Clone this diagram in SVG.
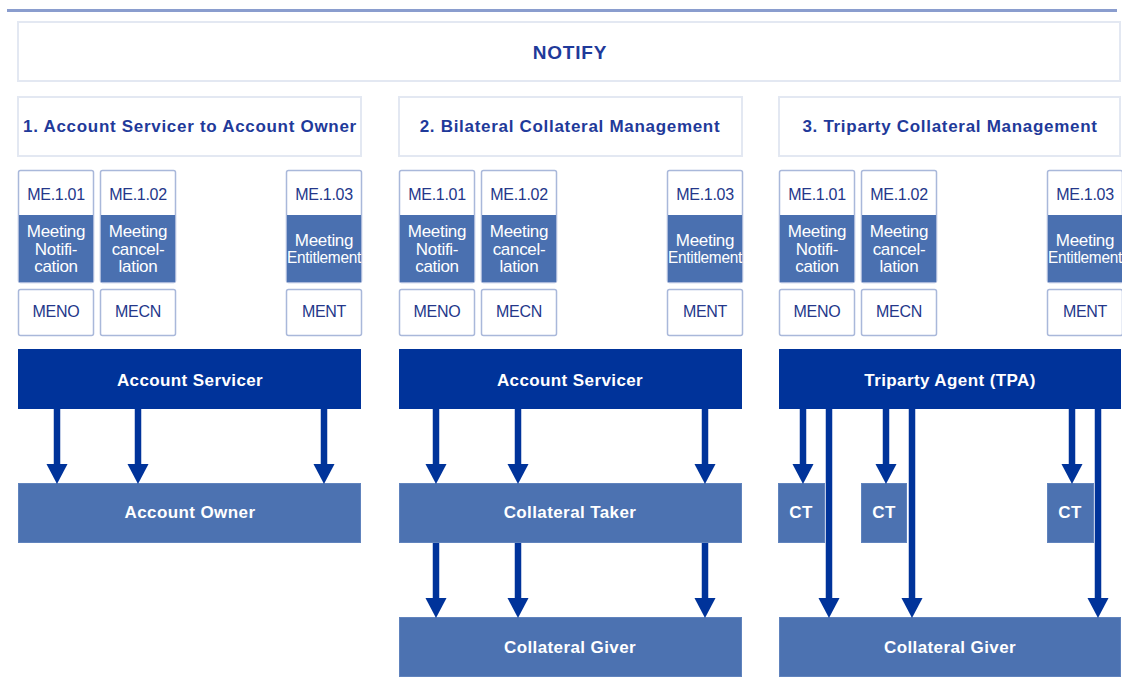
<svg xmlns="http://www.w3.org/2000/svg" width="1122" height="689" viewBox="0 0 1122 689">
<style>
.hdr{fill:#fff;stroke:#e3e8f2;stroke-width:2}
.ttl{font-family:"Liberation Sans",Arial,sans-serif;font-weight:bold;font-size:17px;fill:#1f3a9a;text-anchor:middle;letter-spacing:0.7px}
.big{font-size:19px;letter-spacing:0.8px}
.code{fill:#fff;stroke:#a9b8da;stroke-width:1.5}
.blue{fill:#4a70b0}
.ctxt{font-family:"Liberation Sans",Arial,sans-serif;font-size:16px;fill:#24378a;text-anchor:middle;letter-spacing:-0.3px}
.wtxt{font-family:"Liberation Sans",Arial,sans-serif;font-size:17px;fill:#fff;text-anchor:middle;letter-spacing:-0.3px}
.dark{fill:#00339a}
.mid{fill:#4c72b1;stroke:#6083bd;stroke-width:1}
.btxt{font-family:"Liberation Sans",Arial,sans-serif;font-weight:bold;font-size:17px;fill:#fff;text-anchor:middle;letter-spacing:0.4px}
.arr{stroke:#00339a;stroke-width:6.5;fill:none;marker-end:url(#ah)}
</style>
<defs>
<marker id="ah" markerUnits="userSpaceOnUse" markerWidth="20" markerHeight="22" refX="0" refY="10" orient="auto" viewBox="0 0 19 20">
<path d="M0,0 L19,10 L0,20 Z" fill="#00339a"/>
</marker>
<g id="msgs">
<rect class="code" x="18.5" y="170.5" width="75" height="112" rx="2"/>
<rect class="blue" x="19" y="215" width="74" height="67"/>
<text class="ctxt" x="56" y="200">ME.1.01</text>
<text class="wtxt" x="56" y="237">Meeting</text>
<text class="wtxt" x="56" y="254.5">Notifi-</text>
<text class="wtxt" x="56" y="272">cation</text>
<rect class="code" x="18.5" y="289.5" width="75" height="46" rx="2"/>
<text class="ctxt" x="56" y="317">MENO</text>
<rect class="code" x="100.5" y="170.5" width="75" height="112" rx="2"/>
<rect class="blue" x="101" y="215" width="74" height="67"/>
<text class="ctxt" x="138" y="200">ME.1.02</text>
<text class="wtxt" x="138" y="237">Meeting</text>
<text class="wtxt" x="138" y="254.5">cancel-</text>
<text class="wtxt" x="138" y="272">lation</text>
<rect class="code" x="100.5" y="289.5" width="75" height="46" rx="2"/>
<text class="ctxt" x="138" y="317">MECN</text>
<rect class="code" x="286.5" y="170.5" width="75" height="112" rx="2"/>
<rect class="blue" x="287" y="215" width="74" height="67"/>
<text class="ctxt" x="324" y="200">ME.1.03</text>
<text class="wtxt" x="324" y="246">Meeting</text>
<text class="wtxt" x="324" y="263" textLength="74" lengthAdjust="spacingAndGlyphs">Entitlement</text>
<rect class="code" x="286.5" y="289.5" width="75" height="46" rx="2"/>
<text class="ctxt" x="324" y="317">MENT</text>
</g>
</defs>
<rect x="7" y="9" width="1110" height="3" fill="#8a9dce"/>
<g id="notify">
<rect class="hdr" x="18" y="22" width="1102" height="59"/>
<text class="ttl big" x="570" y="59">NOTIFY</text>
</g>
<g id="section1">
<rect class="hdr" x="18" y="97" width="343" height="59"/>
<text class="ttl" x="190" y="132">1. Account Servicer to Account Owner</text>
<use href="#msgs"/>
</g>
<g id="section2">
<rect class="hdr" x="399" y="97" width="343" height="59"/>
<text class="ttl" x="570" y="132">2. Bilateral Collateral Management</text>
<use href="#msgs" x="381"/>
</g>
<g id="section3">
<rect class="hdr" x="779" y="97" width="341" height="59"/>
<text class="ttl" x="950" y="132">3. Triparty Collateral Management</text>
<use href="#msgs" x="761"/>
</g>
<g id="account-servicer-1">
<rect class="dark" x="18" y="349" width="343" height="60"/>
<text class="btxt" x="190" y="386">Account Servicer</text>
</g>
<g id="account-owner">
<rect class="mid" x="18.5" y="483.5" width="342" height="59"/>
<text class="btxt" x="190" y="518">Account Owner</text>
</g>
<g id="account-servicer-2">
<rect class="dark" x="399" y="349" width="343" height="60"/>
<text class="btxt" x="570" y="386">Account Servicer</text>
</g>
<g id="collateral-taker">
<rect class="mid" x="399.5" y="483.5" width="342" height="59"/>
<text class="btxt" x="570" y="518">Collateral Taker</text>
</g>
<g id="collateral-giver-2">
<rect class="mid" x="399.5" y="617.5" width="342" height="59"/>
<text class="btxt" x="570" y="653">Collateral Giver</text>
</g>
<g id="tpa">
<rect class="dark" x="779" y="349" width="342" height="60"/>
<text class="btxt" x="950" y="386">Triparty Agent (TPA)</text>
</g>
<g id="ct1">
<rect class="mid" x="778.5" y="483.5" width="46" height="59"/>
<text class="btxt" x="801" y="518">CT</text>
</g>
<g id="ct2">
<rect class="mid" x="861.5" y="483.5" width="45" height="59"/>
<text class="btxt" x="884" y="518">CT</text>
</g>
<g id="ct3">
<rect class="mid" x="1047.5" y="483.5" width="46" height="59"/>
<text class="btxt" x="1070" y="518">CT</text>
</g>
<g id="collateral-giver-3">
<rect class="mid" x="779.5" y="617.5" width="341" height="59"/>
<text class="btxt" x="950" y="653">Collateral Giver</text>
</g>
<g id="connectors">
<line class="arr" x1="57" y1="409" x2="57" y2="464"/>
<line class="arr" x1="138" y1="409" x2="138" y2="464"/>
<line class="arr" x1="324" y1="409" x2="324" y2="464"/>
<line class="arr" x1="436" y1="409" x2="436" y2="464"/>
<line class="arr" x1="518" y1="409" x2="518" y2="464"/>
<line class="arr" x1="705" y1="409" x2="705" y2="464"/>
<line class="arr" x1="436" y1="543" x2="436" y2="598"/>
<line class="arr" x1="518" y1="543" x2="518" y2="598"/>
<line class="arr" x1="705" y1="543" x2="705" y2="598"/>
<line class="arr" x1="803" y1="409" x2="803" y2="464"/>
<line class="arr" x1="886" y1="409" x2="886" y2="464"/>
<line class="arr" x1="1072" y1="409" x2="1072" y2="464"/>
<line class="arr" x1="829" y1="409" x2="829" y2="598"/>
<line class="arr" x1="912" y1="409" x2="912" y2="598"/>
<line class="arr" x1="1098" y1="409" x2="1098" y2="598"/>
</g>
</svg>
